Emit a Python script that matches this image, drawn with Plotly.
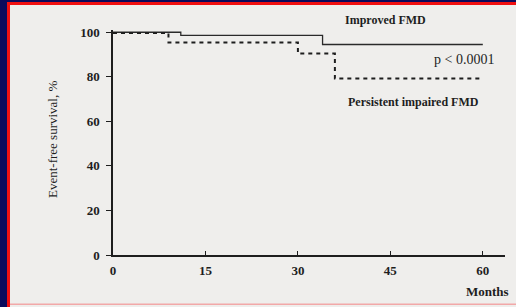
import plotly.graph_objects as go

# Data
improved_months = [0, 11, 34, 60]
improved_surv = [100, 98.6, 94.5, 94.5]
impaired_months = [0, 9, 30, 36, 60]
impaired_surv = [99.7, 95.4, 90.4, 79.2, 79.2]
x_ticks = [0, 15, 30, 45, 60]
y_ticks = [0, 20, 40, 60, 80, 100]

W, H = 516, 307
L, R, T, B = 113, 11, 30, 52
PW, PH = W - L - R, H - T - B
SERIF = "Liberation Serif, Times New Roman, serif"
INK = "#1e1e1e"

def px(x):
    return (x - L) / PW

def py(y):
    return (H - B - y) / PH

fig = go.Figure()
fig.add_trace(go.Scatter(x=improved_months, y=improved_surv, mode="lines",
                         line=dict(shape="hv", color="#2a2a2a", width=1.3),
                         cliponaxis=False, showlegend=False, hoverinfo="skip"))
fig.add_trace(go.Scatter(x=impaired_months, y=impaired_surv, mode="lines",
                         line=dict(shape="hv", color=INK, width=2, dash="4px,4px"),
                         cliponaxis=False, showlegend=False, hoverinfo="skip"))

shapes = [
    dict(type="rect", xref="paper", yref="paper", x0=px(0), x1=px(7), y0=py(H), y1=py(0),
         fillcolor="#0b0b5c", line_width=0, layer="below"),
    dict(type="rect", xref="paper", yref="paper", x0=px(0), x1=px(W), y0=py(2), y1=py(0),
         fillcolor="#0b0b5c", line_width=0, layer="below"),
    dict(type="rect", xref="paper", yref="paper", x0=px(7), x1=px(W), y0=py(5), y1=py(2),
         fillcolor="#f01010", line_width=0, layer="below"),
    dict(type="rect", xref="paper", yref="paper", x0=px(7), x1=px(10), y0=py(H), y1=py(2),
         fillcolor="#f01010", line_width=0, layer="below"),
    dict(type="rect", xref="paper", yref="paper", x0=px(10), x1=px(W), y0=py(305), y1=py(303.5),
         fillcolor="#f2a8a8", line_width=0, layer="below"),
]

def note(text, x, y, size, angle=0):
    return dict(text=text, x=px(x), y=py(y), xref="paper", yref="paper",
                xanchor="center", yanchor="middle", textangle=angle,
                showarrow=False, font=dict(family=SERIF, size=size, color=INK))

annotations = [
    note("<b>Improved FMD</b>", 385, 20, 12),
    note("p < 0.0001", 464, 60, 14),
    note("<b>Persistent impaired FMD</b>", 413, 102, 12),
    note("<b>Months</b>", 487, 291, 13),
    note("Event-free survival, %", 52, 140, 13, -90),
]

fig.update_layout(
    width=W, height=H,
    margin=dict(l=L, r=R, t=T, b=B, pad=0),
    paper_bgcolor="#efeeec", plot_bgcolor="rgba(0,0,0,0)",
    shapes=shapes, annotations=annotations,
    xaxis=dict(range=[0, 63.6], tickvals=x_ticks, ticks="inside", ticklen=4, tickwidth=1.3,
               tickcolor=INK, showgrid=False, zeroline=False, showline=True,
               linecolor=INK, linewidth=1.5, ticklabelstandoff=3,
               tickfont=dict(family=SERIF, size=13, color=INK, weight="bold")),
    yaxis=dict(range=[0, 101], tickvals=y_ticks, ticks="outside", ticklen=5, tickwidth=1.3,
               tickcolor=INK, showgrid=False, zeroline=False, showline=True,
               linecolor=INK, linewidth=1.5, ticklabelstandoff=4,
               tickfont=dict(family=SERIF, size=13, color=INK, weight="bold")),
)

fig.write_html("out.html", config={"displayModeBar": False},
               post_script="document.body.style.margin='0';document.body.style.background='#efeeec';")
